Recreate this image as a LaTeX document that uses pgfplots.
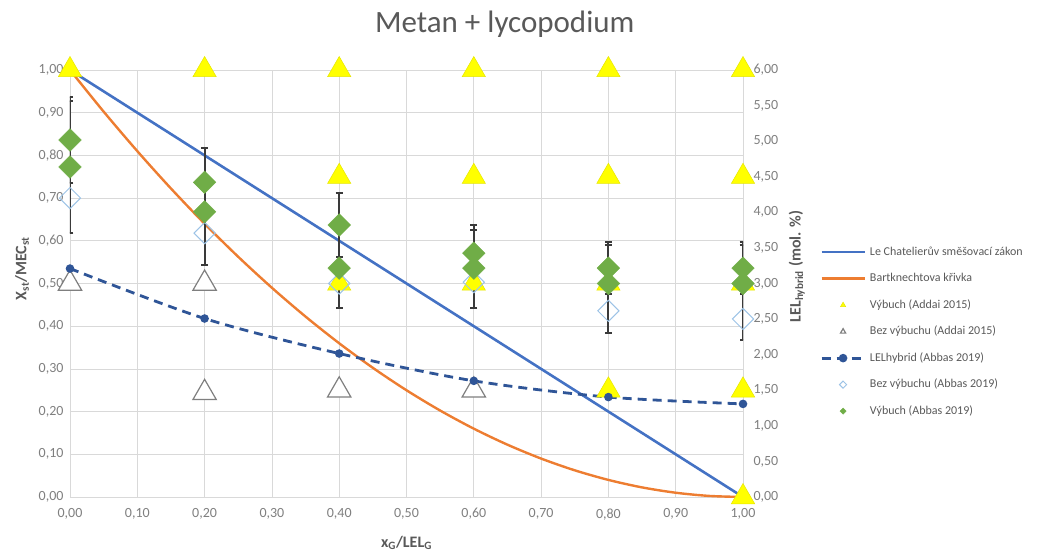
\documentclass[border=0pt]{standalone}
\usepackage{fontspec}
\setmainfont{Carlito}
\usepackage{pgfplots}
\pgfplotsset{compat=1.18}
\definecolor{gridgray}{HTML}{D9D9D9}
\definecolor{tickgray}{HTML}{7F7F7F}
\definecolor{labelgray}{HTML}{595959}
\definecolor{lcblue}{HTML}{4472C4}
\definecolor{bkorange}{HTML}{ED7D31}
\definecolor{dashblue}{HTML}{2F5597}
\definecolor{tyellow}{HTML}{FFFF00}
\definecolor{tyedge}{HTML}{E6E600}
\definecolor{dgreen}{HTML}{70AD47}
\definecolor{lblue}{HTML}{9DC3E6}
\definecolor{trigray}{HTML}{7F7F7F}
\definecolor{errcol}{HTML}{3A3A3A}
\pgfplotsset{
  lineleg/.style={legend image code/.code={\draw[##1] (0pt,0pt) -- (43pt,0pt);}},
  lineMarkleg/.style={legend image code/.code={\draw[##1, mark repeat=2, mark phase=2] plot coordinates {(0pt,0pt) (21.5pt,0pt) (43pt,0pt)};}},
  markleg/.style={legend image code/.code={\draw[##1, mark size=#1] plot coordinates {(21.5pt,0pt)};}},
}
\begin{document}
\begin{tikzpicture}[x=1pt,y=1pt]
\useasboundingbox (0,0) rectangle (1052,552);
\begin{axis}[
  at={(70pt,55pt)}, anchor=south west,
  scale only axis, width=673pt, height=427pt,
  xmin=0, xmax=1, ymin=0, ymax=1,
  xtick={0,0.1,0.2,0.3,0.4,0.5,0.6,0.7,0.8,0.9,1},
  ytick={0,0.1,0.2,0.3,0.4,0.5,0.6,0.7,0.8,0.9,1},
  /pgf/number format/.cd, fixed, fixed zerofill, precision=2, use comma, assume math mode=true,
  /pgfplots/.cd,
  grid=major, grid style={draw=gridgray, line width=0.8pt},
  axis line style={draw=gridgray, line width=0.8pt},
  major tick style={draw=none},
  tick label style={font=\fontsize{14}{16}\selectfont, text=tickgray},
  xticklabel style={yshift=-8pt},
  yticklabel style={xshift=-3pt},
  title={Metan + lycopodium},
  title style={font=\fontsize{31}{36}\selectfont, text=labelgray, at={(axis description cs:0.646,1.092)}, anchor=center},
  xlabel={\textbf{x\textsubscript{G}/LEL\textsubscript{G}}},
  ylabel={\textbf{X\textsubscript{st}/MEC\textsubscript{st}}},
  every axis x label/.style={at={(axis description cs:0.5,-0.1077)}, anchor=center, font=\fontsize{16}{19}\selectfont, text=labelgray},
  every axis y label/.style={at={(axis description cs:-0.0713,0.535)}, rotate=90, anchor=center, font=\fontsize{16}{19}\selectfont, text=labelgray},
  legend style={at={(axis description cs:1.1144,0.588)}, anchor=north west, draw=none, fill=none,
    inner sep=0pt, font=\fontsize{12}{14}\selectfont, text=labelgray,
    nodes={text height=9pt, text depth=3pt, inner sep=0pt, anchor=west}, row sep=14.5pt,
    /tikz/every odd column/.style={column sep=4pt}},
  legend cell align=left,
]
% Le Chatelier
\addplot[lcblue, line width=2.6pt, lineleg]
  coordinates {(0,1) (1,0)};
\addlegendentry{Le Chatelierův směšovací zákon}
% Bartknecht
\addplot[bkorange, line width=2.4pt, smooth, lineleg]
  coordinates {(0,1) (0.05,0.9025) (0.1,0.81) (0.15,0.7225) (0.2,0.64) (0.25,0.5625) (0.3,0.49) (0.35,0.4225) (0.4,0.36) (0.45,0.3025) (0.5,0.25) (0.55,0.2025) (0.6,0.16) (0.65,0.1225) (0.7,0.09) (0.75,0.0625) (0.8,0.04) (0.85,0.0225) (0.9,0.01) (0.95,0.0025) (1,0)};
\addlegendentry{Bartknechtova křivka}
% Vybuch Addai
\addplot[only marks, mark=triangle*, mark size=13.5pt, mark options={fill=tyellow, draw=tyedge, line width=0.5pt}, markleg=3pt]
  coordinates {(0,1) (0.2,1) (0.4,1) (0.4,0.75) (0.4,0.5) (0.6,1) (0.6,0.75) (0.6,0.5)
   (0.8,1) (0.8,0.75) (0.8,0.5) (0.8,0.25) (1,1) (1,0.75) (1,0.5) (1,0.25) (1,0)};
\addlegendentry{Výbuch (Addai 2015)}
% Bez vybuchu Addai
\addplot[only marks, mark=triangle*, mark size=13.5pt, mark options={fill=white, draw=trigray, line width=1.2pt}, markleg=3pt]
  coordinates {(0,0.5) (0.2,0.5) (0.2,0.244) (0.4,0.25) (0.6,0.25)};
\addlegendentry{Bez výbuchu (Addai 2015)}
% LEL hybrid
\addplot[dashblue, line width=2.8pt, dash pattern=on 9pt off 6pt, smooth, mark=*, mark size=2.8pt, mark options={solid, fill=dashblue}, lineMarkleg]
  coordinates {(0,0.535) (0.2,0.418) (0.4,0.336) (0.6,0.272) (0.8,0.234) (1,0.218)};
\addlegendentry{LELhybrid (Abbas 2019)}
% Bez vybuchu Abbas
\addplot[only marks, mark=square, mark size=7.5pt, mark options={rotate=45, draw=lblue, line width=1pt}, markleg=2.5pt]
  coordinates {(0,0.70) (0.2,0.618) (0.4,0.5) (0.6,0.503) (0.8,0.436) (1,0.417)};
\addlegendentry{Bez výbuchu (Abbas 2019)}
% Vybuch Abbas
\addplot[only marks, mark=square*, mark size=8pt, mark options={rotate=45, fill=dgreen, draw=dgreen}, markleg=2.2pt,
  error bars/.cd, y dir=both, y explicit,
  error bar style={line width=2pt, draw=errcol},
  error mark options={rotate=90, mark size=3.5pt, line width=2pt, draw=errcol}]
  coordinates {
   (0,0.836) += (0,0.1) -= (0,0.1)
   (0,0.773) += (0,0.155) -= (0,0.155)
   (0.2,0.737) += (0,0.08) -= (0,0.08)
   (0.2,0.668) += (0,0.15) -= (0,0.125)
   (0.4,0.637) += (0,0.075) -= (0,0.075)
   (0.4,0.536) += (0,0.09) -= (0,0.093)
   (0.6,0.571) += (0,0.066) -= (0,0.066)
   (0.6,0.536) += (0,0.09) -= (0,0.093)
   (0.8,0.536) += (0,0.061) -= (0,0.061)
   (0.8,0.50) += (0,0.09) -= (0,0.116)
   (1,0.536) += (0,0.061) -= (0,0.061)
   (1,0.50) += (0,0.09) -= (0,0.132)
  };
\addlegendentry{Výbuch (Abbas 2019)}
\end{axis}
\begin{axis}[
  at={(70pt,55pt)}, anchor=south west,
  scale only axis, width=673pt, height=427pt,
  xmin=0, xmax=1, ymin=0, ymax=6,
  axis x line=none, axis y line*=right,
  y axis line style={draw=none},
  ytick={0,0.5,1,1.5,2,2.5,3,3.5,4,4.5,5,5.5,6},
  /pgf/number format/.cd, fixed, fixed zerofill, precision=2, use comma, assume math mode=true,
  /pgfplots/.cd,
  major tick style={draw=none},
  tick label style={font=\fontsize{14}{16}\selectfont, text=tickgray},
  yticklabel style={xshift=7pt},
  ylabel={\textbf{LEL\textsubscript{hybrid} (mol. \%)}},
  every axis y label/.style={at={(axis description cs:1.08,0.54)}, rotate=90, anchor=center, font=\fontsize{16}{19}\selectfont, text=labelgray},
]
\end{axis}
\end{tikzpicture}
\end{document}
